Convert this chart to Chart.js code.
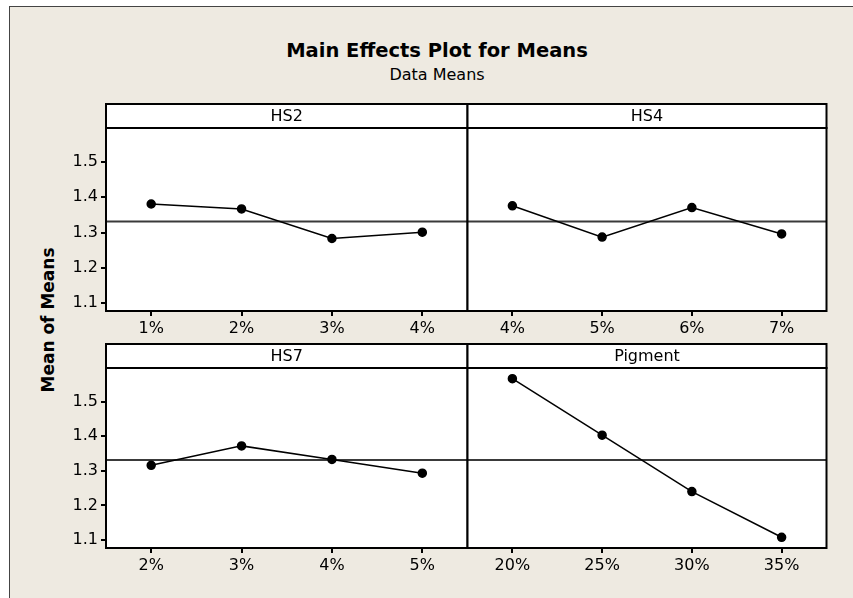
<!DOCTYPE html>
<html>
<head>
<meta charset="utf-8">
<script src="https://cdn.jsdelivr.net/npm/chart.js@4"></script>
<style>
  body { margin: 0; background: #fff; width: 853px; height: 598px; overflow: hidden; position: relative; font-family: "DejaVu Sans", sans-serif; }
  #frame { position: absolute; left: 9px; top: 6px; width: 900px; height: 640px; background: #eeeae1; border-left: 1px solid #444; border-top: 1px solid #444; }
  canvas { position: absolute; }
  .txt { position: absolute; color: #000; white-space: nowrap; }
</style>
</head>
<body>
<div id="frame"></div>
<div class="txt" style="left:0;width:874px;text-align:center;top:40px;font-size:19.5px;line-height:22px;font-weight:bold;">Main Effects Plot for Means</div>
<div class="txt" style="left:0;width:874px;text-align:center;top:65px;font-size:16px;line-height:20px;">Data Means</div>
<div class="txt" style="left:48px;top:320px;font-size:17px;font-weight:bold;transform:translate(-50%,-50%) rotate(-90deg);">Mean of Means</div>

<canvas id="pHS2" width="433" height="239" style="left:40px;top:102px"></canvas>
<canvas id="pHS4" width="370" height="239" style="left:462px;top:102px"></canvas>
<canvas id="pHS7" width="433" height="236" style="left:40px;top:342px"></canvas>
<canvas id="pPig" width="370" height="236" style="left:462px;top:342px"></canvas>

<script>
// niveaux des facteurs et moyennes
const hs2Levels = ['1%', '2%', '3%', '4%'];
const hs2Means = [1.381, 1.367, 1.283, 1.301];
const hs4Levels = ['4%', '5%', '6%', '7%'];
const hs4Means = [1.376, 1.287, 1.371, 1.296];
const hs7Levels = ['2%', '3%', '4%', '5%'];
const hs7Means = [1.316, 1.372, 1.333, 1.293];
const pigmentLevels = ['20%', '25%', '30%', '35%'];
const pigmentMeans = [1.566, 1.403, 1.240, 1.108];
const grandMean = 1.331;
const yTicks = [1.1, 1.2, 1.3, 1.4, 1.5];

const FONT = '"DejaVu Sans", sans-serif';
const HEADER_H = 24;

// cadre du panneau : bandeau titre, fond blanc, ligne de moyenne, bordure
const panelFrame = {
    id: 'panelFrame',
    beforeDraw(chart) {
        const { ctx, chartArea: a } = chart;
        ctx.save();
        ctx.fillStyle = '#fff';
        ctx.fillRect(a.left, a.top - HEADER_H, a.right - a.left, a.bottom - a.top + HEADER_H);
        ctx.restore();
    },
    beforeDatasetsDraw(chart) {
        const { ctx, chartArea: a, scales } = chart;
        const y = scales.y.getPixelForValue(grandMean);
        ctx.save();
        ctx.strokeStyle = '#3a3a3a';
        ctx.lineWidth = 2;
        ctx.beginPath();
        ctx.moveTo(a.left, y);
        ctx.lineTo(a.right, y);
        ctx.stroke();
        ctx.restore();
    },
    afterDraw(chart, args, opts) {
        const { ctx, chartArea: a } = chart;
        ctx.save();
        ctx.strokeStyle = '#000';
        ctx.lineWidth = 2;
        ctx.strokeRect(a.left, a.top - HEADER_H, a.right - a.left, HEADER_H);
        ctx.strokeRect(a.left, a.top, a.right - a.left, a.bottom - a.top);
        ctx.fillStyle = '#000';
        ctx.font = '16px ' + FONT;
        ctx.textAlign = 'center';
        ctx.textBaseline = 'middle';
        ctx.fillText(opts.name, (a.left + a.right) / 2, a.top - HEADER_H / 2 + 1);
        ctx.restore();
    }
};

function makePanel(id, name, levels, means, showY) {
    return new Chart(document.getElementById(id), {
        type: 'line',
        data: {
            labels: levels,
            datasets: [{
                data: means,
                borderColor: '#000',
                borderWidth: 1.5,
                pointBackgroundColor: '#000',
                pointBorderColor: '#000',
                pointRadius: 4,
                tension: 0
            }]
        },
        options: {
            responsive: false,
            animation: false,
            layout: { padding: { top: HEADER_H + 2, right: 2, left: showY ? 0 : 2, bottom: 0 } },
            plugins: {
                legend: { display: false },
                tooltip: { enabled: false },
                panelFrame: { name: name }
            },
            scales: {
                x: {
                    type: 'category',
                    offset: true,
                    border: { display: false },
                    grid: { drawOnChartArea: false, drawTicks: true, tickLength: 5, color: '#000', lineWidth: 2 },
                    ticks: { color: '#000', font: { family: FONT, size: 16 }, padding: 3, maxRotation: 0 },
                    afterFit(s) { s.height = 30; s.paddingLeft = 0; s.paddingRight = 0; }
                },
                y: {
                    display: showY,
                    min: 1.077,
                    max: 1.597,
                    border: { display: false },
                    grid: { drawOnChartArea: false, drawTicks: true, tickLength: 5, color: '#000', lineWidth: 2 },
                    ticks: { color: '#000', font: { family: FONT, size: 16 }, padding: 3, callback: v => v.toFixed(1) },
                    afterBuildTicks(s) { s.ticks = yTicks.map(v => ({ value: v })); },
                    afterFit(s) { s.width = showY ? 66 : 0; s.paddingTop = 0; s.paddingBottom = 0; }
                }
            }
        },
        plugins: [panelFrame]
    });
}

makePanel('pHS2', 'HS2', hs2Levels, hs2Means, true);
makePanel('pHS4', 'HS4', hs4Levels, hs4Means, false);
makePanel('pHS7', 'HS7', hs7Levels, hs7Means, true);
makePanel('pPig', 'Pigment', pigmentLevels, pigmentMeans, false);
</script>
</body>
</html>
